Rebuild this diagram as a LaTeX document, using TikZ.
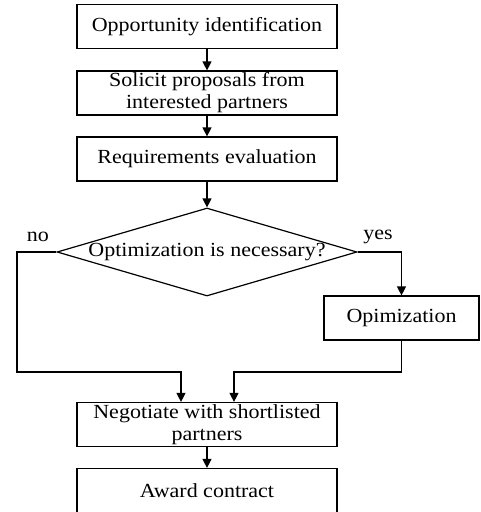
\documentclass[tikz,border=0pt]{standalone}
\usepackage{fontspec}
\setmainfont{Liberation Serif}[FakeStretch=1.1]
\usetikzlibrary{arrows.meta,shapes.geometric}
\tikzstyle{every node}=[font=\fontsize{20}{22}\selectfont,inner sep=0pt]
\tikzstyle{box}=[draw=black,line width=1.2pt,minimum width=260pt,minimum height=44pt,align=center]
\tikzstyle{decision}=[draw=black,line width=1.2pt,shape=diamond,aspect=3.4,minimum width=300pt,minimum height=88pt]
\tikzstyle{flow}=[line width=1.2pt,-{Triangle[length=9pt,width=9pt]}]

\begin{document}
\begin{tikzpicture}[x=1pt, y=-1pt]
	\useasboundingbox (0,0) rectangle (480,512);
	\draw (207,26.5) node [box] (ident) {Opportunity identification};
	\draw (207,93) node [box] (solicit) {Solicit proposals from\\interested partners};
	\draw (207,159) node [box] (req) {Requirements evaluation};
	\draw (207,252) node [decision] (dec) {Optimization is necessary?};
	\draw (401.5,318) node [box, minimum width=155pt] (opt) {Opimization};
	\draw (207,424.5) node [box] (neg) {Negotiate with shortlisted\\partners};
	\draw (207,490.5) node [box] (award) {Award contract};
	\draw (38,237) node (no) {no};
	\draw (378,237) node (yes) {yes};
	\draw[flow] (ident) -- (solicit);
	\draw[flow] (solicit) -- (req);
	\draw[flow] (req) -- (dec);
	\draw[flow] (dec.east) -| (opt.north);
	\draw[flow] (dec.west) -| (17,372) -| ([xshift=-26pt]neg.north);
	\draw[flow] (opt.south) |- (234,372) -- ([xshift=27pt]neg.north);
	\draw[flow] (neg) -- (award);
\end{tikzpicture}
\end{document}
